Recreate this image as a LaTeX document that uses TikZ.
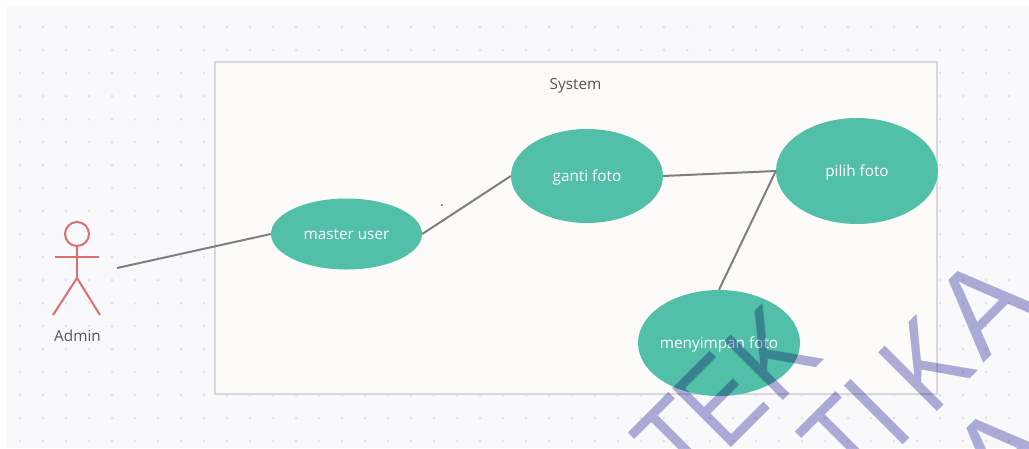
\documentclass[tikz,border=0pt]{standalone}
\usepackage{fontspec}
\setmainfont{Open Sans}
\newfontfamily\markfont{Liberation Sans}
\usetikzlibrary{positioning,shapes.geometric}
\definecolor{panelbg}{HTML}{F9F9FB}
\definecolor{griddot}{HTML}{E2E2E6}
\definecolor{boxbg}{HTML}{FCFBF9}
\definecolor{boxline}{HTML}{D9D9DD}
\definecolor{usecase}{HTML}{52C0A8}
\definecolor{actorred}{HTML}{D9706F}
\definecolor{linkgray}{HTML}{7F7F7F}
\definecolor{labelgray}{HTML}{555555}
\definecolor{markblue}{HTML}{B0AEDA}

\begin{document}
\begin{tikzpicture}[
    x=1pt, y=-1pt, on grid, % one unit is one reference pixel
    link/.style={draw=linkgray, line width=2pt},
    limb/.style={draw=actorred, line width=2pt},
    usecasenode/.style={
        ellipse, fill=usecase, text=white, inner ysep=0pt, inner xsep=-6pt,
        text height=13pt, text depth=2pt,
        font=\fontsize{15.3}{18}\selectfont
    },
    caption/.style={
        text=labelgray, text height=13pt, text depth=2pt,
        font=\fontsize{15.3}{18}\selectfont
    },
    markletter/.style={
        text=markblue, rotate=45, inner sep=0pt,
        font=\markfont\fontsize{121}{121}\selectfont
    }
]
    \useasboundingbox (0,0) rectangle (1029,448);
    \clip (0,0) rectangle (1029,448);

    % --- BACKGROUND: dotted panel ---
    \fill[white] (0,0) rectangle (1029,448);
    \fill[panelbg] (7,6) rectangle (1029,448);
    \foreach \i in {0,...,43}
        \foreach \j in {0,...,18}
            \fill[griddot] (20+23*\i,27+23*\j) circle (1.5pt);

    % --- SYSTEM BOX ---
    \node[rectangle, draw=boxline, fill=boxbg, line width=2pt, minimum width=722pt, minimum height=332pt] (SystemBox) at (576,228) {};
    \node[caption] (SystemLabel) at (575.5,84) {System};
    \fill[labelgray] (442,205) circle (1pt);

    % --- ACTOR ---
    \node[circle, limb, minimum size=24pt, inner sep=0pt] (Head) at (77,234) {};
    \coordinate (Hip) at (77,278);
    \coordinate (ArmL) at (55,257);
    \coordinate (ArmR) at (99,257);
    \coordinate (FootL) at (53,315);
    \coordinate (FootR) at (100,315);
    \draw[limb] (Head.south) -- (Hip);
    \draw[limb] (ArmL) -- (ArmR);
    \draw[limb] (FootL) -- (Hip) -- (FootR);
    \node[caption] (Admin) at (77.5,336) {Admin};
    \coordinate (AdminEnd) at (117,268);

    % --- USE CASES ---
    \node[usecasenode, minimum width=151pt, minimum height=71pt] (MasterUser) at (346.5,234) {master user};
    \node[usecasenode, minimum width=152pt, minimum height=94pt] (GantiFoto) [above right=58pt and 240.5pt of MasterUser] {ganti foto};
    \node[usecasenode, minimum width=162pt, minimum height=106pt] (PilihFoto) [above right=5pt and 270pt of GantiFoto] {pilih foto};
    \node[usecasenode, minimum width=162pt, minimum height=106pt] (MenyimpanFoto) [below left=172pt and 138pt of PilihFoto] {menyimpan foto};

    % --- EDGES ---
    \draw[link] (AdminEnd) -- (MasterUser.west);
    \draw[link] (MasterUser.east) -- (GantiFoto.west);
    \draw[link] (GantiFoto.east) -- (PilihFoto.west);
    \draw[link] (PilihFoto.west) -- (MenyimpanFoto.north);

    % --- WATERMARK ---
    \begin{scope}[blend mode=multiply]
        \foreach \letter/\px/\py/\squeeze [count=\n] in {T/678/442/.84, E/720/400/.84, K/772/353/.84, T/845/441/.84, I/877/412/.84, K/926/364/.84, A/983/306/1, A/1001/454/1}
            \node[markletter] (Mark\n) at (\px,\py) {\scalebox{\squeeze}[1]{\letter}};
    \end{scope}
\end{tikzpicture}
\end{document}
